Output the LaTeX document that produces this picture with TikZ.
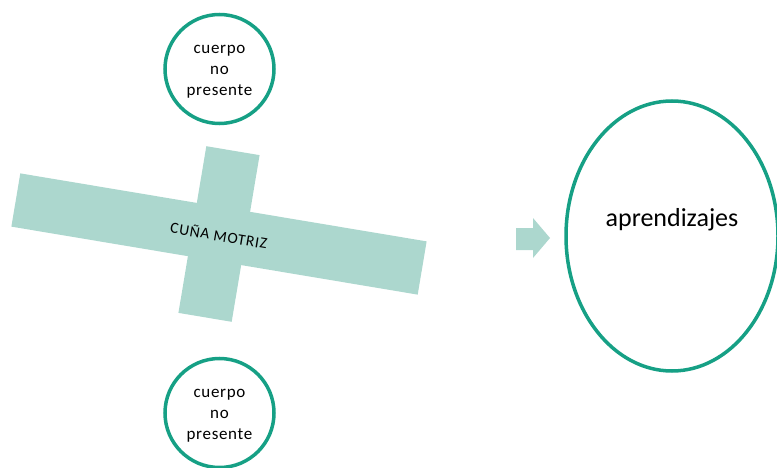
\documentclass[tikz,border=0pt]{standalone}
\usepackage{fontspec}
\setmainfont{Carlito}
\usetikzlibrary{shapes.geometric}
\definecolor{verde}{RGB}{22,160,133}
\definecolor{verdeclaro}{RGB}{172,215,206}
\tikzset{cuerpo/.style={circle, draw=verde, line width=3.5pt, minimum size=109pt, inner sep=0pt,
        label={[align=center, yshift=-3pt, font=\fontsize{17}{21}\selectfont\addfontfeature{LetterSpace=4}]center:{#1}}}}

\begin{document}
\begin{tikzpicture}[x=1pt,y=1pt]
    \useasboundingbox (0,0) rectangle (777,467);

    % cruz
    \begin{scope}[rotate around={-9.5:(219,233)}]
        \fill[verdeclaro] (13,206) rectangle (425,260);
        \fill[verdeclaro] (192,148.5) rectangle (246,317.5);
    \end{scope}
    \node[rotate=-9.5, font=\fontsize{15.5}{18}\selectfont\addfontfeature{LetterSpace=5}] (cuna) at (219,232) {CUÑA MOTRIZ};

    \node[cuerpo={cuerpo\\no\\presente}] (arriba) at (219.5,398) {};
    \node[cuerpo={cuerpo\\no\\presente}] (abajo) at (219.5,54) {};

    \fill[verdeclaro] (516,217) -- (533,217) -- (533,209) -- (550,229)
        -- (533,249) -- (533,239) -- (516,239) -- cycle;

    \node[ellipse, draw=verde, line width=3.5pt, minimum width=212pt, minimum height=270pt,
        label={[font=\fontsize{26}{30}\selectfont, yshift=16pt]center:aprendizajes}] (apr) at (672,231) {};
\end{tikzpicture}
\end{document}
